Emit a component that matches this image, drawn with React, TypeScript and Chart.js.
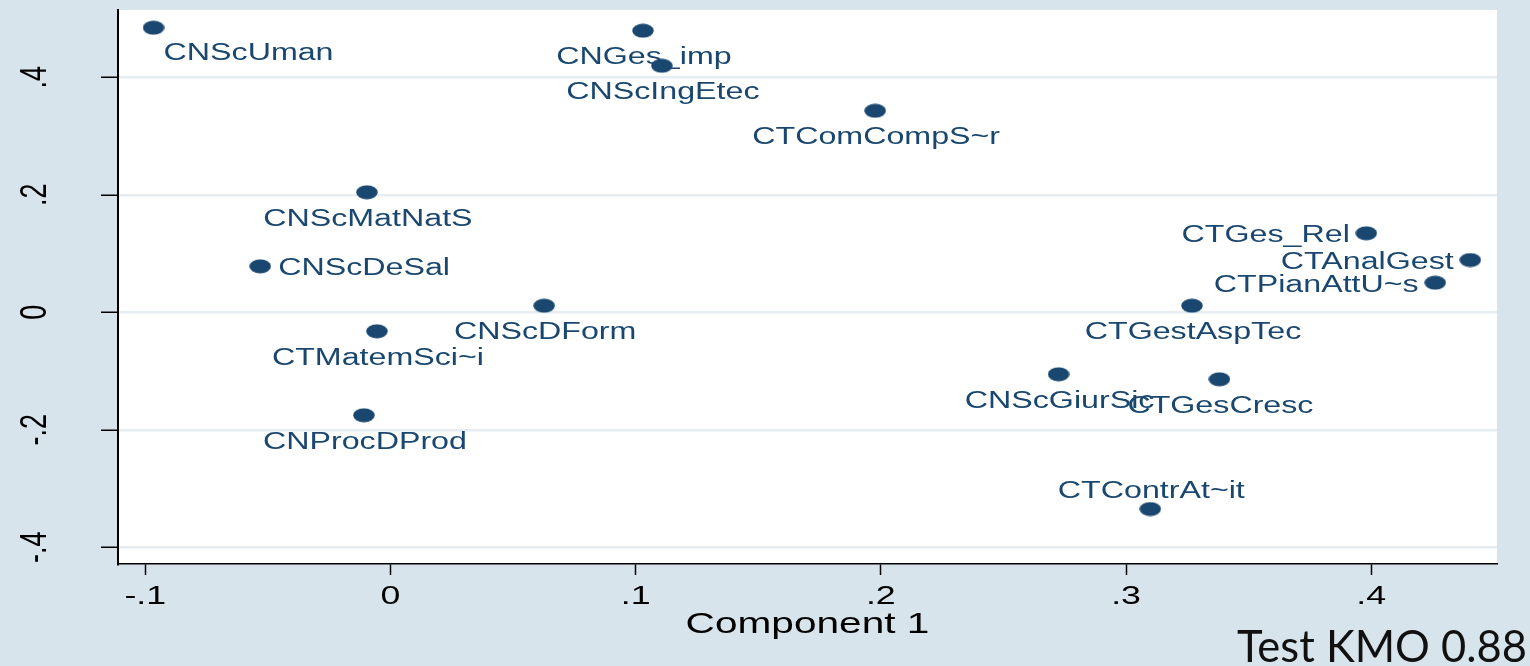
import React, { useEffect, useRef } from "react";
import { Chart, registerables, LinearScale } from "chart.js";

Chart.register(...registerables);

// ---- data ----
const variableNames = [
  "CNScUman",
  "CNGes_imp",
  "CNScIngEtec",
  "CTComCompS~r",
  "CNScMatNatS",
  "CTGes_Rel",
  "CNScDeSal",
  "CTAnalGest",
  "CTPianAttU~s",
  "CNScDForm",
  "CTGestAspTec",
  "CTMatemSci~i",
  "CNScGiurSic",
  "CTGesCresc",
  "CNProcDProd",
  "CTContrAt~it",
];
const component1 = [
  -0.0966, 0.103, 0.1107, 0.1977, -0.0096, 0.398, -0.0531, 0.4404, 0.4261,
  0.0627, 0.3269, -0.0055, 0.2725, 0.3381, -0.0108, 0.3099,
];
const component2 = [
  0.4844, 0.4793, 0.4197, 0.3431, 0.2043, 0.1345, 0.0783, 0.089, 0.0504,
  0.0112, 0.0112, -0.0323, -0.1055, -0.114, -0.1753, -0.3348,
];
// Stata-like clock position of each marker label
const labelClock = [4, 6, 6, 6, 6, 9, 3, 9, 9, 6, 6, 6, 6, 6, 6, 12];

const xTickValues = [-0.1, 0, 0.1, 0.2, 0.3, 0.4];
const xTickLabels = ["-.1", "0", ".1", ".2", ".3", ".4"];
const yTickValues = [-0.4, -0.2, 0, 0.2, 0.4];
const yTickLabels = ["-.4", "-.2", "0", ".2", ".4"];
const xRange = [-0.1111, 0.4513];
const yRange = [-0.4284, 0.5146];
const xAxisTitle = "Component 1";
const footnote = "Test KMO 0.88";

// ---- styles ----
const NAVY = "#1a476f";
const PAGE_BG = "#d8e4eb";
const GRID = "#e6eef1";
const STRETCH = 1.4; // the original graph is stretched horizontally
const SANS = "'Liberation Sans', Arial, sans-serif";

// Linear scale whose tick labels and title are drawn horizontally stretched,
// like the widened Stata graph.
class StretchedLinearScale extends LinearScale {
  static id = "stretchedLinear";
  static defaults = {};

  drawLabels(chartArea: any) {
    const self: any = this;
    if (!self.options.ticks.display) return;
    const ctx = self.ctx;
    const items = self.getLabelItems(chartArea);
    for (const item of items) {
      const o = item.options;
      ctx.save();
      ctx.translate(o.translation[0], o.translation[1]);
      ctx.scale(STRETCH, 1);
      if (o.rotation) ctx.rotate(o.rotation);
      ctx.font = item.font.string;
      ctx.fillStyle = o.color;
      ctx.textAlign = o.textAlign;
      ctx.textBaseline = o.textBaseline;
      const lines = Array.isArray(item.label) ? item.label : [item.label];
      let y = item.textOffset;
      for (const line of lines) {
        ctx.fillText(String(line), 0, y);
        y += item.font.lineHeight;
      }
      ctx.restore();
    }
  }

  drawTitle() {
    const self: any = this;
    const title = self.options.title;
    if (!title || !title.display) return;
    const ctx = self.ctx;
    const size = title.font.size;
    const lineHeight = size * 1.2;
    const padBottom = (title.padding && title.padding.bottom) || 0;
    const x = (self.left + self.right) / 2;
    const y = self.bottom - lineHeight / 2 - padBottom;
    ctx.save();
    ctx.translate(x, y);
    ctx.scale(STRETCH, 1);
    ctx.font = `${size}px ${title.font.family}`;
    ctx.fillStyle = title.color;
    ctx.textAlign = "center";
    ctx.textBaseline = "middle";
    ctx.fillText(String(title.text), 0, 0);
    ctx.restore();
  }
}
Chart.register(StretchedLinearScale as any);

function makeMarker(): HTMLCanvasElement {
  const c = document.createElement("canvas");
  c.width = 22;
  c.height = 15;
  const g = c.getContext("2d")!;
  g.fillStyle = NAVY;
  g.beginPath();
  g.ellipse(11, 7.5, 10.75, 7, 0, 0, Math.PI * 2);
  g.fill();
  return c;
}

const plotBackground = {
  id: "plotBackground",
  beforeDraw(chart: any) {
    const { ctx, chartArea: a } = chart;
    ctx.save();
    ctx.fillStyle = "#ffffff";
    ctx.fillRect(a.left, a.top, a.right - a.left, a.bottom - a.top);
    ctx.restore();
  },
};

const markerLabels = {
  id: "markerLabels",
  afterDatasetsDraw(chart: any) {
    const ctx = chart.ctx;
    const meta = chart.getDatasetMeta(0);
    ctx.save();
    ctx.font = `23px ${SANS}`;
    ctx.fillStyle = NAVY;
    ctx.textBaseline = "alphabetic";
    meta.data.forEach((pt: any, i: number) => {
      const clock = labelClock[i];
      let dx = 1;
      let dy = 33.5;
      let align: CanvasTextAlign = "center";
      if (clock === 12) {
        dy = -11.3;
      } else if (clock === 9) {
        dx = -16.5;
        dy = 9;
        align = "right";
      } else if (clock === 3) {
        dx = 18;
        dy = 9;
        align = "left";
      } else if (clock === 4) {
        dx = 10;
        dy = 32.5;
        align = "left";
      }
      ctx.save();
      ctx.translate(pt.x + dx, pt.y + dy);
      ctx.scale(STRETCH, 1);
      ctx.textAlign = align;
      ctx.fillText(variableNames[i], 0, 0);
      ctx.restore();
    });
    ctx.restore();
  },
};

const footnotePlugin = {
  id: "footnote",
  afterDraw(chart: any) {
    const ctx = chart.ctx;
    ctx.save();
    ctx.font = "43.5px Lato, 'Open Sans', sans-serif";
    ctx.fillStyle = "#111111";
    ctx.textAlign = "right";
    ctx.textBaseline = "alphabetic";
    ctx.fillText(footnote, chart.width - 3, chart.height - 4);
    ctx.restore();
  },
};

export default function App() {
  const canvasRef = useRef<HTMLCanvasElement>(null);

  useEffect(() => {
    const canvas = canvasRef.current;
    if (!canvas) return;
    const marker = makeMarker();
    const chart = new Chart(canvas, {
      type: "scatter",
      data: {
        datasets: [
          {
            data: component1.map((x, i) => ({ x, y: component2[i] })),
            pointStyle: marker as any,
            pointRadius: 7,
            pointHoverRadius: 7,
            backgroundColor: NAVY,
            borderColor: NAVY,
            showLine: false,
          },
        ],
      },
      options: {
        responsive: false,
        animation: false,
        devicePixelRatio: 1,
        layout: { padding: { left: 0, right: 33, top: 10, bottom: 0 } },
        plugins: {
          legend: { display: false },
          tooltip: { enabled: false },
        },
        scales: {
          x: {
            type: "stretchedLinear",
            position: "bottom",
            min: xRange[0],
            max: xRange[1],
            afterBuildTicks: (s: any) => {
              s.ticks = xTickValues.map((v) => ({ value: v }));
            },
            afterFit: (s: any) => {
              s.height = 102;
              s.paddingLeft = 0;
              s.paddingRight = 0;
            },
            ticks: {
              autoSkip: false,
              minRotation: 0,
              maxRotation: 0,
              padding: 7,
              color: "#000",
              font: { family: SANS, size: 25.5 },
              callback: (_v: any, i: number) => xTickLabels[i],
            },
            grid: {
              display: true,
              drawOnChartArea: false,
              drawTicks: true,
              tickLength: 11,
              tickWidth: 1.5,
              tickColor: "#000",
            },
            border: { display: true, color: "#000", width: 1.5 },
            title: {
              display: true,
              text: xAxisTitle,
              color: "#000",
              font: { family: SANS, size: 29 },
              padding: { top: 0, bottom: 24 },
            },
          },
          y: {
            type: "stretchedLinear",
            position: "left",
            min: yRange[0],
            max: yRange[1],
            afterBuildTicks: (s: any) => {
              s.ticks = yTickValues.map((v) => ({ value: v }));
            },
            afterFit: (s: any) => {
              s.width = 118;
              s.paddingTop = 0;
              s.paddingBottom = 0;
            },
            ticks: {
              autoSkip: false,
              minRotation: 90,
              maxRotation: 90,
              crossAlign: "center",
              padding: 50,
              color: "#000",
              font: { family: SANS, size: 27 },
              callback: (_v: any, i: number) => yTickLabels[i],
            },
            grid: {
              display: true,
              drawOnChartArea: true,
              color: GRID,
              lineWidth: 2.5,
              drawTicks: true,
              tickLength: 17,
              tickWidth: 1.5,
              tickColor: "#000",
            },
            border: { display: true, color: "#000", width: 2 },
          },
        },
      } as any,
      plugins: [plotBackground, markerLabels, footnotePlugin],
    });
    return () => chart.destroy();
  }, []);

  return (
    <div
      style={{
        position: "absolute",
        left: 0,
        top: 0,
        width: 1530,
        height: 666,
        background: PAGE_BG,
      }}
    >
      <canvas
        ref={canvasRef}
        width={1530}
        height={666}
        style={{ display: "block", width: 1530, height: 666 }}
      />
    </div>
  );
}
